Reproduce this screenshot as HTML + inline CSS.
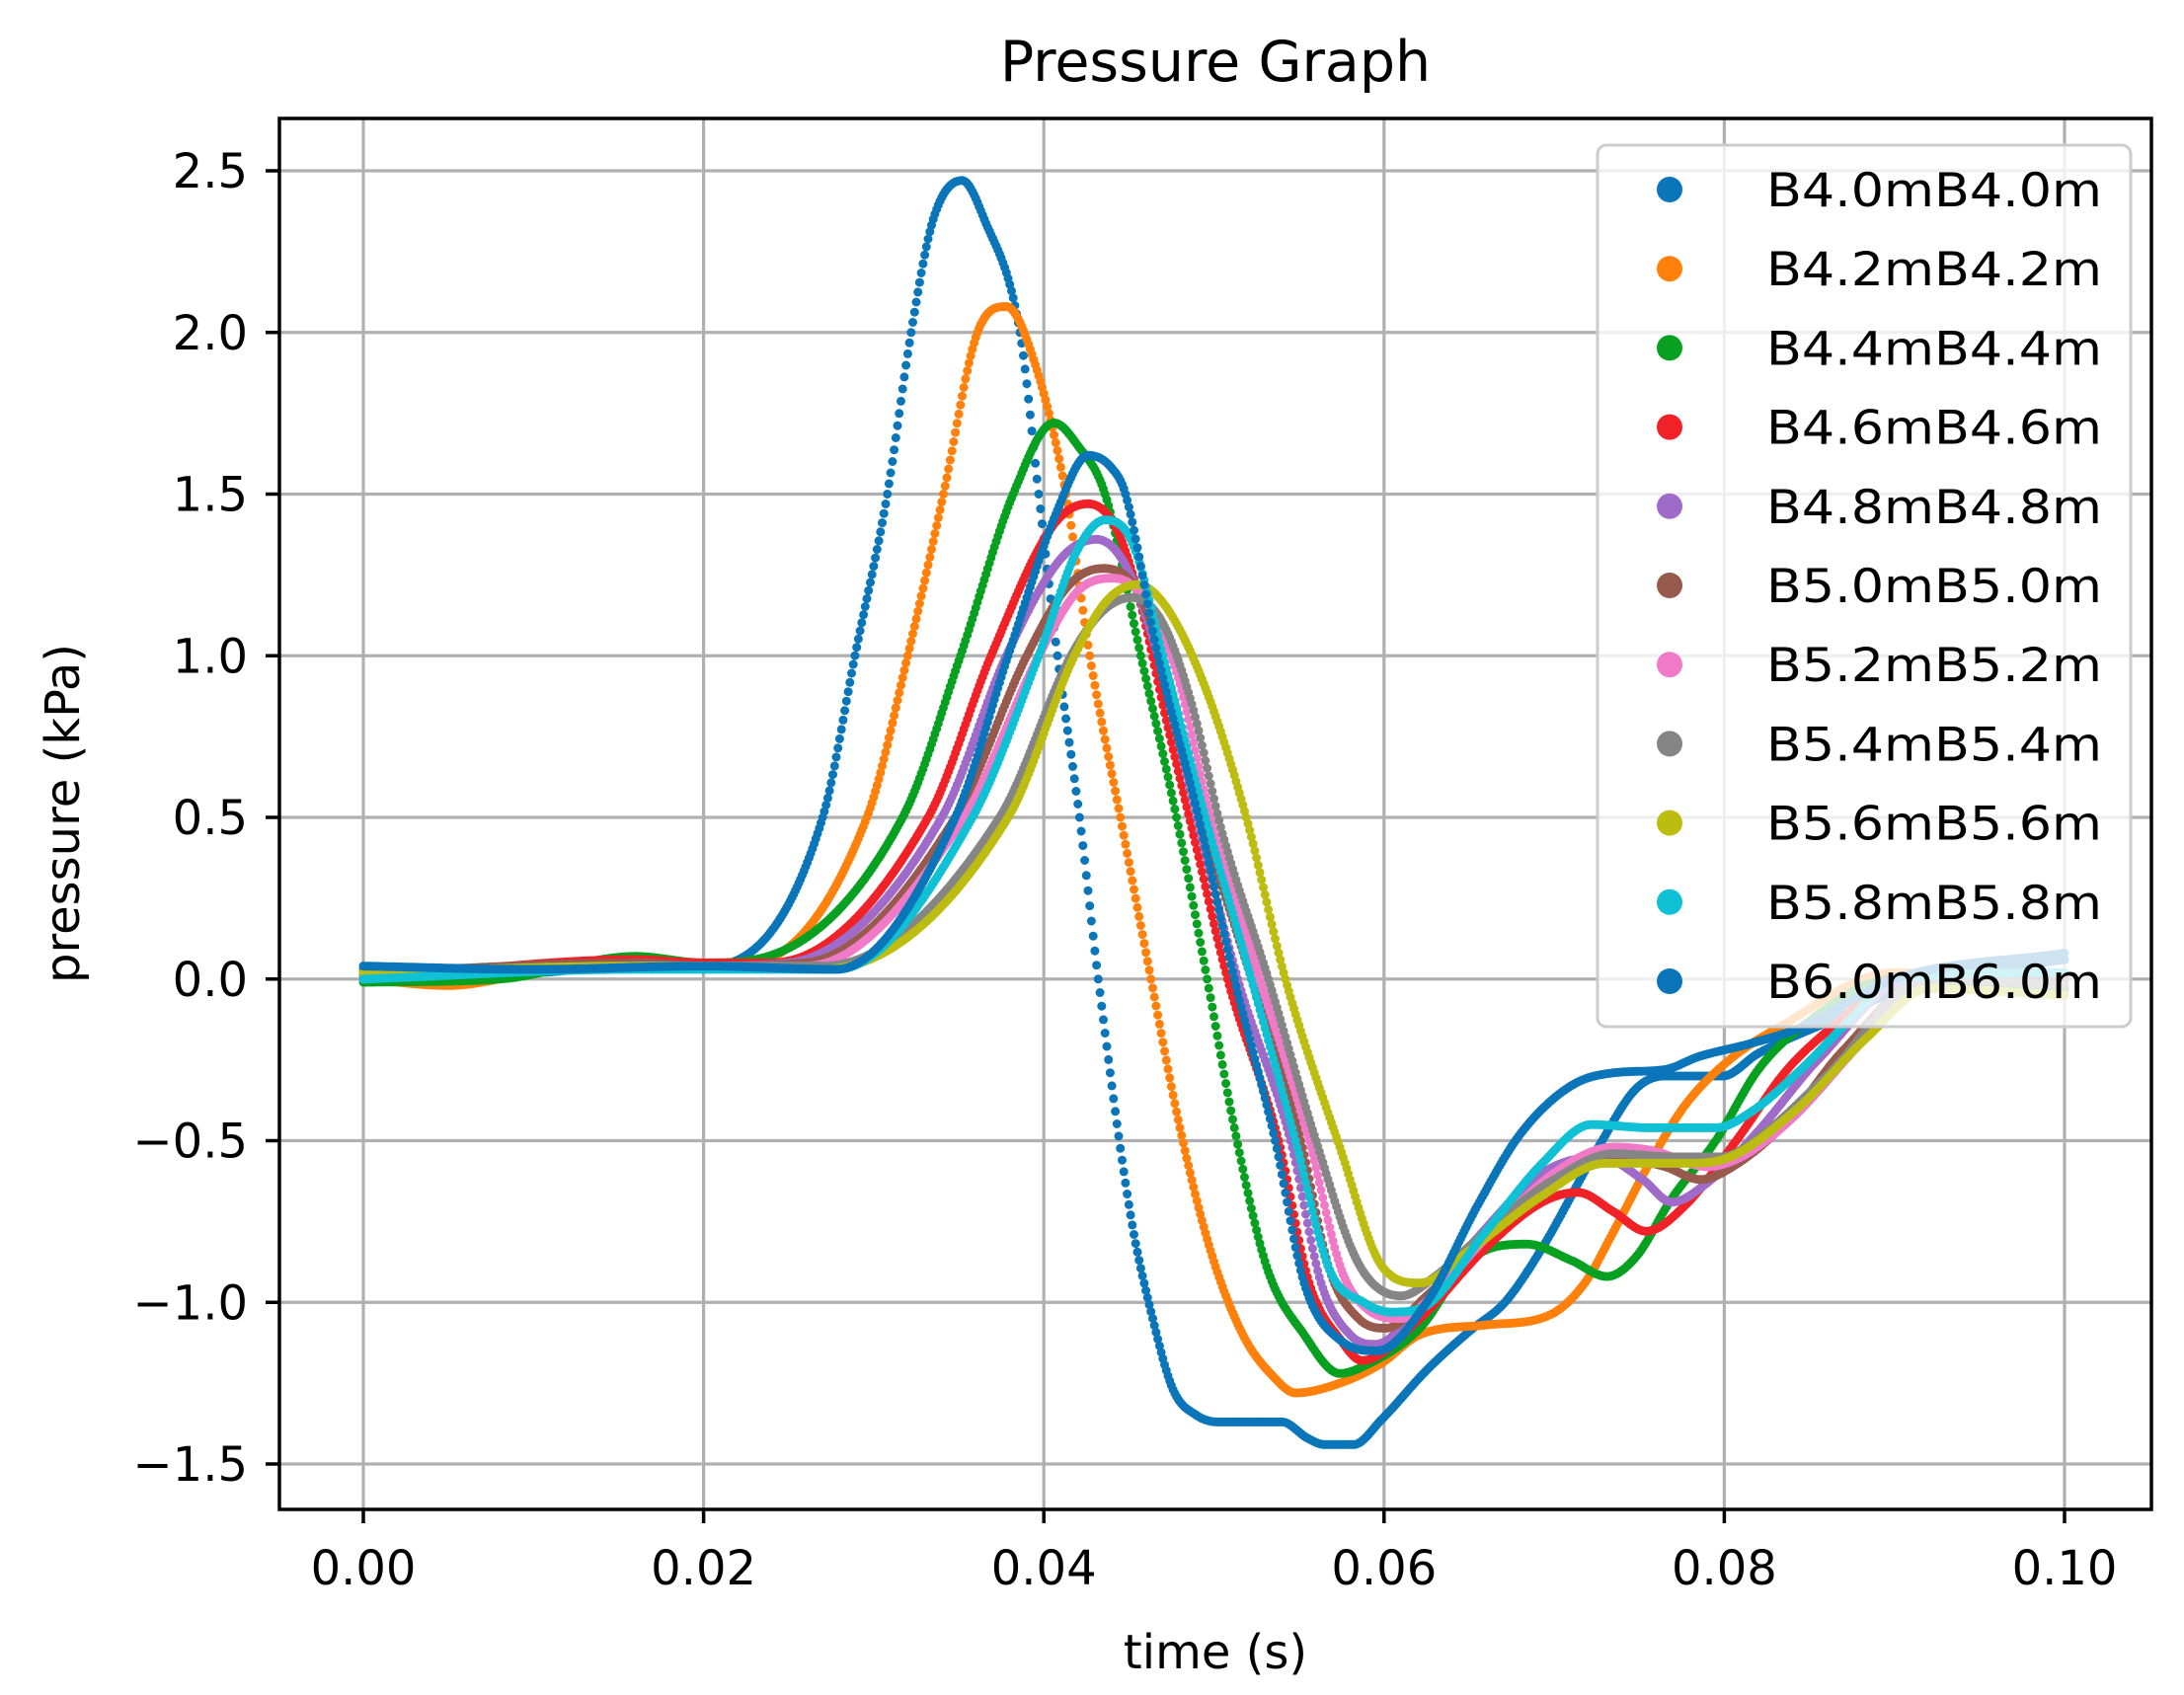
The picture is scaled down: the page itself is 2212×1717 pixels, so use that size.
<!DOCTYPE html>
<html><head><meta charset="utf-8"><style>
html,body{margin:0;padding:0;background:#fff}
svg{display:block}
text{font-family:"DejaVu Sans","Liberation Sans",sans-serif;fill:#000}
</style></head><body>
<svg id="s" width="2212" height="1717" viewBox="0 0 2212 1717" xmlns="http://www.w3.org/2000/svg">
<rect width="2212" height="1717" fill="#fff"/>
<g id="grid" stroke="#b0b0b0" stroke-width="3.2"></g>
<g id="data" fill="none" stroke-linecap="round"></g>
<g id="axes"></g>
<text x="1231" y="82" font-size="57" text-anchor="middle">Pressure Graph</text>
<text x="1231" y="1690" font-size="48" text-anchor="middle">time (s)</text>
<text transform="translate(80,824) rotate(-90)" font-size="48" text-anchor="middle">pressure (kPa)</text>
<g id="legend"></g>
</svg>
<script>
var X0=368,XS=17230,Y0=991.75,YS=327.5;
function px(t){return X0+t*XS}function py(v){return Y0-v*YS}
var NS="http://www.w3.org/2000/svg";
function el(p,n,a,txt){var e=document.createElementNS(NS,n);for(var k in a)e.setAttribute(k,a[k]);if(txt!=null)e.textContent=txt;p.appendChild(e);return e;}
var g=document.getElementById('grid'),ax=document.getElementById('axes');
var L=283,R=2179,T=120,B=1529;
for(var i=0;i<=5;i++){var x=px(i*0.02);el(g,'line',{x1:x,y1:T,x2:x,y2:B});
 el(ax,'line',{x1:x,y1:B,x2:x,y2:B+14,stroke:'#000','stroke-width':3.5});
 el(ax,'text',{x:x,y:1605,'font-size':48,'text-anchor':'middle'},(i*0.02).toFixed(2));}
for(var v=-1.5;v<=2.5001;v+=0.5){var y=py(v);el(g,'line',{x1:L,y1:y,x2:R,y2:y});
 el(ax,'line',{x1:L-14,y1:y,x2:L,y2:y,stroke:'#000','stroke-width':3.5});
 var s=v.toFixed(1);if(v<0)s='\u2212'+s.slice(1);
 el(ax,'text',{x:251,y:y+17,'font-size':48,'text-anchor':'end'},s);}
el(ax,'rect',{x:L,y:T,width:R-L,height:B-T,fill:'none',stroke:'#000','stroke-width':3.5});
var C=['#0a75b8','#ff800a','#08a020','#f02228','#a06ac8','#985a4c','#f07ac8','#858585','#bcbd10','#10c0d4','#0a75b8'];
var N=['B4.0mB4.0m','B4.2mB4.2m','B4.4mB4.4m','B4.6mB4.6m','B4.8mB4.8m','B5.0mB5.0m','B5.2mB5.2m','B5.4mB5.4m','B5.6mB5.6m','B5.8mB5.8m','B6.0mB6.0m'];
var D=[
[[0,0.03],[0.01,0.02],[0.015,0.04],[0.02,0.04],[0.0216,0.05],[0.027,0.5],[0.0289,1.0],[0.0308,1.5],[0.0322,2.0],[0.0335,2.35],[0.0352,2.47],[0.0365,2.35],[0.0386,2.0],[0.0397,1.5],[0.0408,1.0],[0.0421,0.5],[0.0432,0.0],[0.0451,-0.73],[0.0464,-1.05],[0.0476,-1.27],[0.049,-1.35],[0.0503,-1.37],[0.054,-1.37],[0.0555,-1.42],[0.0565,-1.44],[0.0582,-1.44],[0.0599,-1.36],[0.0625,-1.21],[0.065,-1.09],[0.0671,-1.0],[0.0692,-0.84],[0.0726,-0.52],[0.0748,-0.34],[0.0765,-0.30],[0.0799,-0.30],[0.082,-0.23],[0.0862,-0.13],[0.092,0.0],[0.1,0.06]],
[[0,0.0],[0.005,-0.02],[0.01,0.02],[0.016,0.06],[0.02,0.05],[0.0226,0.05],[0.0296,0.5],[0.032,1.0],[0.0341,1.5],[0.0361,2.0],[0.0378,2.08],[0.0395,1.9],[0.0413,1.5],[0.0427,1.0],[0.0445,0.5],[0.0463,0.0],[0.048,-0.46],[0.0498,-0.84],[0.0517,-1.1],[0.0535,-1.23],[0.0548,-1.28],[0.0574,-1.25],[0.0598,-1.19],[0.0621,-1.1],[0.066,-1.07],[0.0697,-1.04],[0.0718,-0.94],[0.0735,-0.78],[0.0756,-0.57],[0.0777,-0.39],[0.0803,-0.25],[0.0832,-0.15],[0.09,0.02],[0.1,-0.05]],
[[0,-0.01],[0.008,0.0],[0.016,0.07],[0.02,0.05],[0.023,0.06],[0.0317,0.5],[0.0351,1.0],[0.0382,1.5],[0.0406,1.72],[0.042,1.65],[0.0436,1.5],[0.0457,1.0],[0.0478,0.5],[0.0496,0.0],[0.0512,-0.46],[0.0531,-0.89],[0.0553,-1.1],[0.0574,-1.22],[0.0587,-1.2],[0.0621,-1.08],[0.065,-0.87],[0.0684,-0.82],[0.071,-0.87],[0.0731,-0.92],[0.0748,-0.86],[0.0769,-0.68],[0.0795,-0.5],[0.082,-0.28],[0.0845,-0.15],[0.09,0.0],[0.1,-0.03]],
[[0,0.0],[0.016,0.06],[0.02,0.05],[0.024,0.05],[0.0332,0.5],[0.0369,1.0],[0.0405,1.4],[0.0426,1.47],[0.0442,1.4],[0.0455,1.2],[0.0472,0.8],[0.049,0.4],[0.0508,0.0],[0.0538,-0.5],[0.0556,-0.94],[0.0575,-1.12],[0.0587,-1.18],[0.0621,-1.05],[0.066,-0.83],[0.0693,-0.69],[0.0714,-0.66],[0.0735,-0.72],[0.0754,-0.78],[0.0777,-0.7],[0.0807,-0.5],[0.0837,-0.28],[0.087,-0.12],[0.09,0.0],[0.1,0.0]],
[[0,0.01],[0.016,0.05],[0.02,0.04],[0.025,0.05],[0.034,0.5],[0.0378,1.0],[0.041,1.3],[0.0431,1.36],[0.0448,1.28],[0.0467,1.0],[0.049,0.5],[0.0514,0.0],[0.0545,-0.5],[0.0563,-0.94],[0.058,-1.1],[0.0595,-1.13],[0.062,-1.02],[0.0655,-0.8],[0.0693,-0.6],[0.0727,-0.55],[0.0752,-0.62],[0.0769,-0.69],[0.079,-0.63],[0.082,-0.47],[0.0855,-0.25],[0.091,0.0],[0.1,0.0]],
[[0,0.02],[0.016,0.05],[0.02,0.04],[0.026,0.05],[0.0348,0.5],[0.039,1.0],[0.0415,1.22],[0.0435,1.27],[0.0455,1.2],[0.0472,0.95],[0.0493,0.5],[0.0522,0.0],[0.0551,-0.5],[0.0568,-0.9],[0.0585,-1.05],[0.0601,-1.08],[0.0625,-0.98],[0.066,-0.8],[0.07,-0.62],[0.0735,-0.55],[0.0765,-0.58],[0.0786,-0.62],[0.0805,-0.58],[0.0835,-0.45],[0.087,-0.22],[0.092,0.0],[0.1,0.0]],
[[0,0.0],[0.016,0.04],[0.02,0.04],[0.026,0.04],[0.0353,0.5],[0.0397,1.0],[0.042,1.2],[0.0441,1.24],[0.046,1.17],[0.0478,0.95],[0.0498,0.5],[0.0527,0.0],[0.0556,-0.5],[0.0575,-0.9],[0.059,-1.02],[0.061,-1.05],[0.063,-0.97],[0.066,-0.8],[0.07,-0.6],[0.0735,-0.52],[0.0757,-0.53],[0.079,-0.58],[0.081,-0.55],[0.084,-0.43],[0.088,-0.2],[0.092,0.0],[0.1,-0.02]],
[[0,0.01],[0.016,0.04],[0.02,0.04],[0.027,0.04],[0.0374,0.5],[0.0416,1.0],[0.0435,1.14],[0.0452,1.18],[0.047,1.1],[0.0487,0.85],[0.0505,0.45],[0.0532,0.0],[0.056,-0.5],[0.0585,-0.88],[0.061,-0.98],[0.063,-0.92],[0.066,-0.78],[0.07,-0.62],[0.0735,-0.54],[0.077,-0.55],[0.0798,-0.55],[0.0825,-0.47],[0.086,-0.3],[0.092,0.0],[0.1,-0.02]],
[[0,0.02],[0.016,0.04],[0.02,0.04],[0.027,0.03],[0.0379,0.5],[0.0418,1.0],[0.0437,1.17],[0.0455,1.22],[0.0472,1.15],[0.0495,0.9],[0.0519,0.5],[0.0542,0.0],[0.0574,-0.52],[0.0599,-0.89],[0.0621,-0.94],[0.065,-0.84],[0.0693,-0.67],[0.073,-0.57],[0.0777,-0.57],[0.0798,-0.56],[0.0841,-0.41],[0.0884,-0.18],[0.092,-0.03],[0.1,-0.05]],
[[0,0.0],[0.016,0.03],[0.02,0.03],[0.0278,0.03],[0.0358,0.5],[0.0397,1.0],[0.042,1.33],[0.0436,1.42],[0.0452,1.35],[0.047,1.0],[0.0495,0.5],[0.0522,0.0],[0.0548,-0.5],[0.0568,-0.9],[0.0588,-1.0],[0.0604,-1.03],[0.0621,-1.02],[0.066,-0.78],[0.0693,-0.57],[0.0722,-0.45],[0.0756,-0.46],[0.0795,-0.46],[0.0816,-0.41],[0.0845,-0.28],[0.0875,-0.12],[0.09,0.0],[0.1,0.02]],
[[0,0.04],[0.01,0.03],[0.02,0.04],[0.0278,0.03],[0.0348,0.5],[0.0379,1.0],[0.0408,1.45],[0.0426,1.62],[0.044,1.58],[0.0448,1.5],[0.0467,1.0],[0.0491,0.5],[0.0512,0.0],[0.0536,-0.5],[0.0553,-0.94],[0.0575,-1.12],[0.0596,-1.15],[0.0625,-1.0],[0.0655,-0.7],[0.068,-0.48],[0.071,-0.33],[0.0735,-0.29],[0.0765,-0.28],[0.0785,-0.24],[0.0815,-0.2],[0.0845,-0.15],[0.09,0.0],[0.1,0.08]]
];
function mono(P){var n=P.length,d=[],m=[];for(var i=0;i<n-1;i++)d.push((P[i+1][1]-P[i][1])/(P[i+1][0]-P[i][0]));
 m[0]=d[0];m[n-1]=d[n-2];for(var i=1;i<n-1;i++){m[i]=(d[i-1]*d[i]<=0)?0:(d[i-1]+d[i])/2;}
 for(var i=0;i<n-1;i++){if(d[i]==0){m[i]=0;m[i+1]=0;continue;}var a=m[i]/d[i],b=m[i+1]/d[i],h=a*a+b*b;if(h>9){var tt=3/Math.sqrt(h);m[i]=tt*a*d[i];m[i+1]=tt*b*d[i];}}
 return function(t){var i=0;while(i<n-2&&t>P[i+1][0])i++;var h=P[i+1][0]-P[i][0],s=(t-P[i][0])/h,s2=s*s,s3=s2*s;
  return (2*s3-3*s2+1)*P[i][1]+(s3-2*s2+s)*h*m[i]+(-2*s3+3*s2)*P[i+1][1]+(s3-s2)*h*m[i+1];};}
var dg=document.getElementById('data');
for(var k=0;k<D.length;k++){var f=mono(D[k]),p='';
 for(var j=0;j<=1000;j++){var t=j*0.0001;p+='M'+px(t).toFixed(1)+' '+py(f(t)).toFixed(1)+'h0';}
 el(dg,'path',{d:p,stroke:C[k],'stroke-width':9});}
var lg=document.getElementById('legend');
el(lg,'rect',{x:1618,y:147,width:540,height:893,rx:9,fill:'#fff','fill-opacity':0.8,stroke:'#cccccc','stroke-width':3});
for(var k=0;k<11;k++){var y=192+k*80.2;el(lg,'circle',{cx:1691,cy:y,r:13,fill:C[k]});
 el(lg,'text',{x:1789,y:y+17,'font-size':47,textLength:340,lengthAdjust:'spacingAndGlyphs'},N[k]);}
</script>
</body></html>
